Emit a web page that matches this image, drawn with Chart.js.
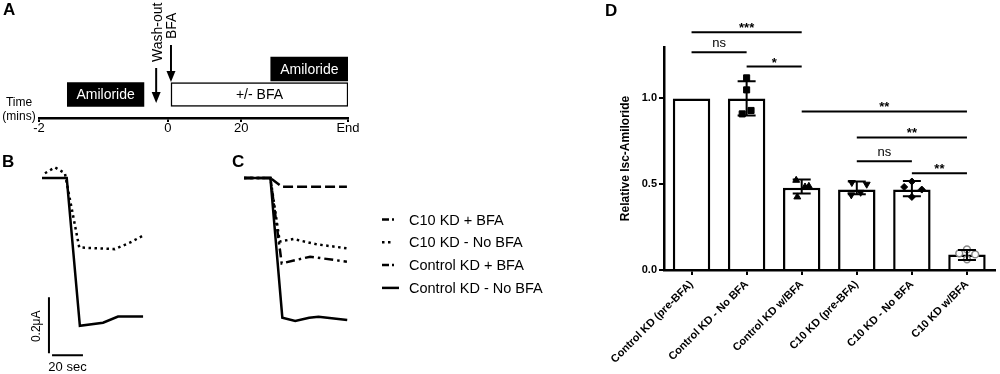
<!DOCTYPE html>
<html>
<head>
<meta charset="utf-8">
<script src="https://cdn.jsdelivr.net/npm/chart.js@4.4.1/dist/chart.umd.min.js"></script>
<style>
body { margin: 0; background: #fff; }
#wrap { position: relative; width: 1000px; height: 374px; overflow: hidden; font-family: "Liberation Sans", Arial, sans-serif; }
canvas { position: absolute; }
.panel { position: absolute; font-weight: bold; font-size: 17px; line-height: 17px; color: #000; }
</style>
</head>
<body>
<div id="wrap">
  <canvas id="chartA" width="360" height="140" style="left:0;top:0"></canvas>
  <canvas id="chartB" width="200" height="234" style="left:0;top:140px"></canvas>
  <canvas id="chartC" width="330" height="234" style="left:225px;top:140px"></canvas>
  <canvas id="chartD" width="400" height="374" style="left:600px;top:0"></canvas>
  <div class="panel" style="left:3px;top:1px">A</div>
  <div class="panel" style="left:2px;top:153px">B</div>
  <div class="panel" style="left:232px;top:153px">C</div>
  <div class="panel" style="left:605px;top:2px">D</div>
</div>
<script>
const FONT = '"Liberation Sans", Arial, sans-serif';
Chart.defaults.font.family = FONT;
Chart.defaults.color = '#000';

// ---- panel A: protocol timeline (schematic units) ----
const timeTickPos = [0, 10, 15.7, 24];
const timeTickLabels = ['-2', '0', '20', 'End'];
const amilorideStart = [2.2, 18];
const amilorideEnd = [8.15, 24];
const amilorideRow = [23.5, 49];
const amilorideText = ['Amiloride', 'Amiloride'];
const bfaStart = [10.25];
const bfaEnd = [24];
const bfaRow = [23.5];
const bfaText = ['+/- BFA'];
const arrowPos = [9.1, 10.25];
const arrowTop = [50, 73];
const arrowBottom = [15, 36];
const arrowText = ['Wash-out', 'BFA'];

// ---- panel B: traces (sec, uA relative to baseline) ----
const bSecCtrl = [0, 16, 24.5, 39.5, 49.2, 65.4];
const bCtrlNoBfa = [0, 0, -0.528, -0.517, -0.495, -0.495];
const bSecC10 = [1.9, 8.4, 14.8, 24.1, 35.3, 47.1, 56.8, 65];
const bC10NoBfa = [0.017, 0.038, 0.017, -0.248, -0.251, -0.254, -0.231, -0.207];
const scaleBarSec = 20;
const scaleBarAmp = 0.2;

// ---- panel C: traces ----
const cSecC10Bfa = [0, 17, 24.3, 66.3];
const cC10Bfa = [0, 0, -0.031, -0.031];
const cSecC10NoBfa = [0, 17, 23, 31.8, 46.9, 66.3];
const cC10NoBfa = [0, 0, -0.227, -0.218, -0.237, -0.251];
const cSecCtrlBfa = [0, 17, 24.3, 42.6, 66.3];
const cCtrlBfa = [0, 0, -0.305, -0.281, -0.299];
const cSecCtrlNoBfa = [0, 17, 24.7, 33, 42, 48, 66.5];
const cCtrlNoBfa = [0, 0, -0.499, -0.511, -0.499, -0.496, -0.507];

// ---- panel D: bar chart ----
const dGroups = ['Control KD (pre-BFA)', 'Control KD - No BFA', 'Control KD w/BFA', 'C10 KD (pre-BFA)', 'C10 KD - No BFA', 'C10 KD w/BFA'];
const dMeans = [1.0, 1.0, 0.48, 0.47, 0.47, 0.09];
const dSdLow = [null, 0.90, 0.446, 0.442, 0.43, 0.058];
const dSdHigh = [null, 1.10, 0.527, 0.516, 0.519, 0.117];
const dYTicks = [0, 0.5, 1.0];
const ptsCtrlNoBfa = [1.12, 1.05, 0.91, 0.93];
const jitCtrlNoBfa = [0, 0, -0.08, 0.08];
const ptsCtrlBfa = [0.523, 0.484, 0.488, 0.426];
const jitCtrlBfa = [-0.1, 0.06, 0.13, -0.08];
const ptsC10Pre = [0.51, 0.50, 0.438, 0.453];
const jitC10Pre = [-0.09, 0.18, -0.1, 0.07];
const ptsC10NoBfa = [0.516, 0.484, 0.469, 0.426];
const jitC10NoBfa = [0, -0.14, 0.18, 0];
const ptsC10Bfa = [0.12, 0.097, 0.091, 0.062];
const jitC10Bfa = [0, -0.14, 0.15, 0];
const sigFrom = [0, 0, 1, 2, 3, 3, 4];
const sigTo = [2, 1, 2, 5, 5, 4, 5];
const sigLevel = [1.386, 1.27, 1.186, 0.924, 0.773, 0.634, 0.564];
const sigText = ['***', 'ns', '*', '**', '**', 'ns', '**'];

function xy(xs, ys) {
    return xs.map(function(v, i) { return { x: v, y: ys[i] }; });
}

function spans(starts, ends, rows) {
    return starts.map(function(s, i) { return { x: [s, ends[i]], y: rows[i] }; });
}

const boxText = amilorideText.concat(bfaText);
const isAmiloride = function(c) { return c.dataIndex < amilorideStart.length; };

// notes on the timeline: texts in boxes, arrows, axis caption
const schemeNotes = {
    id: 'schemeNotes',
    afterDatasetsDraw(chart) {
        const ctx = chart.ctx, x = chart.scales.x, y = chart.scales.y;
        ctx.save();
        ctx.textAlign = 'center';
        ctx.textBaseline = 'middle';
        ctx.font = '14px ' + FONT;
        chart.getDatasetMeta(0).data.forEach(function(bar, i) {
            ctx.fillStyle = i < amilorideStart.length ? '#fff' : '#000';
            ctx.fillText(boxText[i], (bar.x + bar.base) / 2, bar.y + 1);
        });
        ctx.fillStyle = '#000';
        ctx.strokeStyle = '#000';
        arrowPos.forEach(function(p, i) {
            const ax = x.getPixelForValue(p);
            const top = y.getPixelForValue(arrowTop[i]);
            const bot = y.getPixelForValue(arrowBottom[i]);
            ctx.lineWidth = 2;
            ctx.beginPath();
            ctx.moveTo(ax, top);
            ctx.lineTo(ax, bot - 9);
            ctx.stroke();
            ctx.beginPath();
            ctx.moveTo(ax - 4.5, bot - 11);
            ctx.lineTo(ax + 4.5, bot - 11);
            ctx.lineTo(ax, bot);
            ctx.closePath();
            ctx.fill();
            ctx.save();
            ctx.translate(ax + 1.5, top - 6);
            ctx.rotate(-Math.PI / 2);
            ctx.textAlign = 'left';
            ctx.fillText(arrowText[i], 0, 0);
            ctx.restore();
        });
        ctx.font = '12px ' + FONT;
        ctx.fillText('Time', 19, 103);
        ctx.fillText('(mins)', 19, 117);
        ctx.restore();
    }
};

new Chart(document.getElementById('chartA'), {
    type: 'bar',
    data: {
        datasets: [{
            data: spans(amilorideStart, amilorideEnd, amilorideRow).concat(spans(bfaStart, bfaEnd, bfaRow)),
            backgroundColor: function(c) { return isAmiloride(c) ? '#000' : '#fff'; },
            borderColor: '#000',
            borderWidth: function(c) { return isAmiloride(c) ? 0 : 1.5; },
            borderSkipped: false,
            barThickness: 24
        }]
    },
    options: {
        indexAxis: 'y',
        responsive: false,
        animation: false,
        layout: { padding: { left: 39, right: 12, top: 0, bottom: 0 } },
        plugins: { legend: { display: false }, tooltip: { enabled: false } },
        scales: {
            x: {
                type: 'linear', min: 0, max: 24, position: 'bottom', offset: false,
                afterFit: function(s) { s.height = 22; },
                afterBuildTicks: function(s) { s.ticks = timeTickPos.map(function(v) { return { value: v }; }); },
                ticks: { autoSkip: false, maxRotation: 0, padding: 0, font: { size: 13, lineHeight: 1 },
                         callback: function(v, i) { return timeTickLabels[i]; } },
                grid: { drawOnChartArea: false, tickLength: 4, color: '#000', lineWidth: 2 },
                border: { color: '#000', width: 2.5 }
            },
            y: { type: 'linear', min: 0, max: 118, offset: false, display: false }
        }
    },
    plugins: [schemeNotes]
});

// scale bar for panel B
const scaleBar = {
    id: 'scaleBar',
    afterDatasetsDraw(chart) {
        const ctx = chart.ctx, x = chart.scales.x, y = chart.scales.y;
        const vx = x.getPixelForValue(4.5);
        const vTop = y.getPixelForValue(-0.426);
        const vBot = y.getPixelForValue(-0.426 - scaleBarAmp);
        const hy = y.getPixelForValue(-0.633);
        const hx1 = x.getPixelForValue(6.5);
        const hx2 = x.getPixelForValue(6.5 + scaleBarSec);
        ctx.save();
        ctx.strokeStyle = '#000';
        ctx.lineWidth = 2;
        ctx.beginPath();
        ctx.moveTo(vx, vTop); ctx.lineTo(vx, vBot);
        ctx.moveTo(hx1, hy); ctx.lineTo(hx2, hy);
        ctx.stroke();
        ctx.fillStyle = '#000';
        ctx.textAlign = 'center';
        ctx.textBaseline = 'middle';
        ctx.font = '13px ' + FONT;
        ctx.fillText(scaleBarSec + ' sec', (hx1 + hx2) / 2, hy + 12);
        ctx.save();
        ctx.translate(vx - 12, (vTop + vBot) / 2 + 1);
        ctx.rotate(-Math.PI / 2);
        ctx.font = '12px ' + FONT;
        ctx.fillText(scaleBarAmp + 'μA', 0, 0);
        ctx.restore();
        ctx.restore();
    }
};

// legend drawn next to panel C
const traceLegend = {
    id: 'traceLegend',
    afterDraw(chart) {
        const ctx = chart.ctx;
        ctx.save();
        ctx.font = '14.5px ' + FONT;
        ctx.fillStyle = '#000';
        ctx.strokeStyle = '#000';
        ctx.textBaseline = 'middle';
        chart.data.datasets.forEach(function(ds, i) {
            const yy = 79.5 + i * 22.8;
            ctx.lineWidth = ds.borderWidth;
            ctx.setLineDash(ds.legendDash || []);
            ctx.beginPath();
            ctx.moveTo(157, yy);
            ctx.lineTo(157 + (ds.legendDash ? 12 : 17), yy);
            ctx.stroke();
            ctx.setLineDash([]);
            ctx.fillText(ds.label, 184, yy + 1);
        });
        ctx.restore();
    }
};

function traceOptions(padLeft, padRight, xMax) {
    return {
        responsive: false,
        animation: false,
        layout: { padding: { left: padLeft, right: padRight, top: 10, bottom: 0 } },
        plugins: { legend: { display: false }, tooltip: { enabled: false } },
        elements: { point: { radius: 0 }, line: { tension: 0, borderColor: '#000', borderWidth: 2.5 } },
        scales: {
            x: { type: 'linear', min: 0, max: xMax, display: false },
            y: { type: 'linear', min: -0.7, max: 0.1, display: false }
        }
    };
}

new Chart(document.getElementById('chartB'), {
    type: 'line',
    data: {
        datasets: [
            { label: 'C10 KD - No BFA', data: xy(bSecC10, bC10NoBfa), borderDash: [2.5, 3.5] },
            { label: 'Control KD - No BFA', data: xy(bSecCtrl, bCtrlNoBfa) }
        ]
    },
    options: traceOptions(42, 56, 66),
    plugins: [scaleBar]
});

new Chart(document.getElementById('chartC'), {
    type: 'line',
    data: {
        datasets: [
            { label: 'C10 KD + BFA', data: xy(cSecC10Bfa, cC10Bfa), borderDash: [10, 4], legendDash: [7, 3, 2.5, 3], borderWidth: 2.5 },
            { label: 'C10 KD - No BFA', data: xy(cSecC10NoBfa, cC10NoBfa), borderDash: [2.5, 3.5], legendDash: [2.5, 3.5], borderWidth: 2.5 },
            { label: 'Control KD + BFA', data: xy(cSecCtrlBfa, cCtrlBfa), borderDash: [9, 4, 2.5, 4], legendDash: [7, 3, 2.5, 3], borderWidth: 2.5 },
            { label: 'Control KD - No BFA', data: xy(cSecCtrlNoBfa, cCtrlNoBfa), borderWidth: 2.5 }
        ]
    },
    options: traceOptions(19, 207, 67),
    plugins: [traceLegend]
});

// error bars + significance brackets for panel D
const barNotes = {
    id: 'barNotes',
    afterDatasetsDraw(chart) {
        const ctx = chart.ctx, x = chart.scales.x, y = chart.scales.y;
        ctx.save();
        ctx.strokeStyle = '#000';
        ctx.fillStyle = '#000';
        ctx.lineWidth = 2;
        dSdLow.forEach(function(lo, i) {
            if (lo === null) return;
            const px = x.getPixelForValue(i);
            const y1 = y.getPixelForValue(lo), y2 = y.getPixelForValue(dSdHigh[i]);
            ctx.beginPath();
            ctx.moveTo(px, y1); ctx.lineTo(px, y2);
            ctx.moveTo(px - 9, y1); ctx.lineTo(px + 9, y1);
            ctx.moveTo(px - 9, y2); ctx.lineTo(px + 9, y2);
            ctx.stroke();
        });
        ctx.textAlign = 'center';
        ctx.textBaseline = 'alphabetic';
        sigFrom.forEach(function(f, i) {
            const x1 = x.getPixelForValue(f), x2 = x.getPixelForValue(sigTo[i]);
            const yy = y.getPixelForValue(sigLevel[i]);
            ctx.beginPath();
            ctx.moveTo(x1, yy); ctx.lineTo(x2, yy);
            ctx.stroke();
            const ns = sigText[i] === 'ns';
            ctx.font = (ns ? '' : 'bold ') + '13px ' + FONT;
            ctx.fillText(sigText[i], (x1 + x2) / 2, ns ? yy - 5.5 : yy);
        });
        ctx.restore();
    }
};

function replicates(group, vals, jit, style) {
    return Object.assign({
        type: 'scatter',
        xAxisID: 'xj',
        yAxisID: 'y',
        order: 0,
        data: vals.map(function(v, i) { return { x: group + jit[i], y: v }; }),
        pointBackgroundColor: '#000',
        pointBorderColor: '#000',
        pointBorderWidth: 1,
        pointRadius: 4
    }, style);
}

new Chart(document.getElementById('chartD'), {
    type: 'bar',
    data: {
        labels: dGroups,
        datasets: [
            replicates(1, ptsCtrlNoBfa, jitCtrlNoBfa, { pointStyle: 'rect', pointRadius: 4.3 }),
            replicates(2, ptsCtrlBfa, jitCtrlBfa, { pointStyle: 'triangle', pointRadius: 4 }),
            replicates(3, ptsC10Pre, jitC10Pre, { pointStyle: 'triangle', pointRotation: 180, pointRadius: 4 }),
            replicates(4, ptsC10NoBfa, jitC10NoBfa, { pointStyle: 'rectRot', pointRadius: 3.5 }),
            replicates(5, ptsC10Bfa, jitC10Bfa, { pointStyle: 'circle', pointRadius: 3.4, pointBackgroundColor: '#fff', pointBorderColor: '#888', pointBorderWidth: 1.5 }),
            {
                type: 'bar',
                data: dMeans,
                xAxisID: 'x',
                yAxisID: 'y',
                order: 1,
                grouped: false,
                backgroundColor: '#fff',
                borderColor: '#000',
                borderWidth: 2.5,
                categoryPercentage: 1,
                barPercentage: 0.68
            }
        ]
    },
    options: {
        responsive: false,
        animation: false,
        layout: { padding: { left: 0, right: 3, top: 47, bottom: 0 } },
        plugins: { legend: { display: false }, tooltip: { enabled: false } },
        scales: {
            x: {
                type: 'category',
                z: 1,
                afterFit: function(s) { s.height = 104; },
                ticks: { autoSkip: false, minRotation: 45, maxRotation: 45, padding: 3, font: { size: 11, weight: 'bold' } },
                grid: { drawOnChartArea: false, offset: false, tickLength: 5, color: '#000', lineWidth: 2 },
                border: { color: '#000', width: 2.5 }
            },
            xj: { type: 'linear', min: -0.5, max: 5.5, offset: false, display: false },
            y: {
                type: 'linear', min: 0, max: 1.3,
                afterFit: function(s) { s.width = 64; },
                afterBuildTicks: function(s) { s.ticks = dYTicks.map(function(v) { return { value: v }; }); },
                ticks: { padding: 2, font: { size: 11, weight: 'bold' }, callback: function(v) { return v.toFixed(1); } },
                grid: { drawOnChartArea: false, tickLength: 5, color: '#000', lineWidth: 2 },
                border: { color: '#000', width: 2.5 },
                title: { display: true, text: 'Relative Isc-Amiloride', font: { size: 12, weight: 'bold' }, padding: { top: 18, bottom: 0 } }
            }
        }
    },
    plugins: [barNotes]
});
</script>
</body>
</html>
